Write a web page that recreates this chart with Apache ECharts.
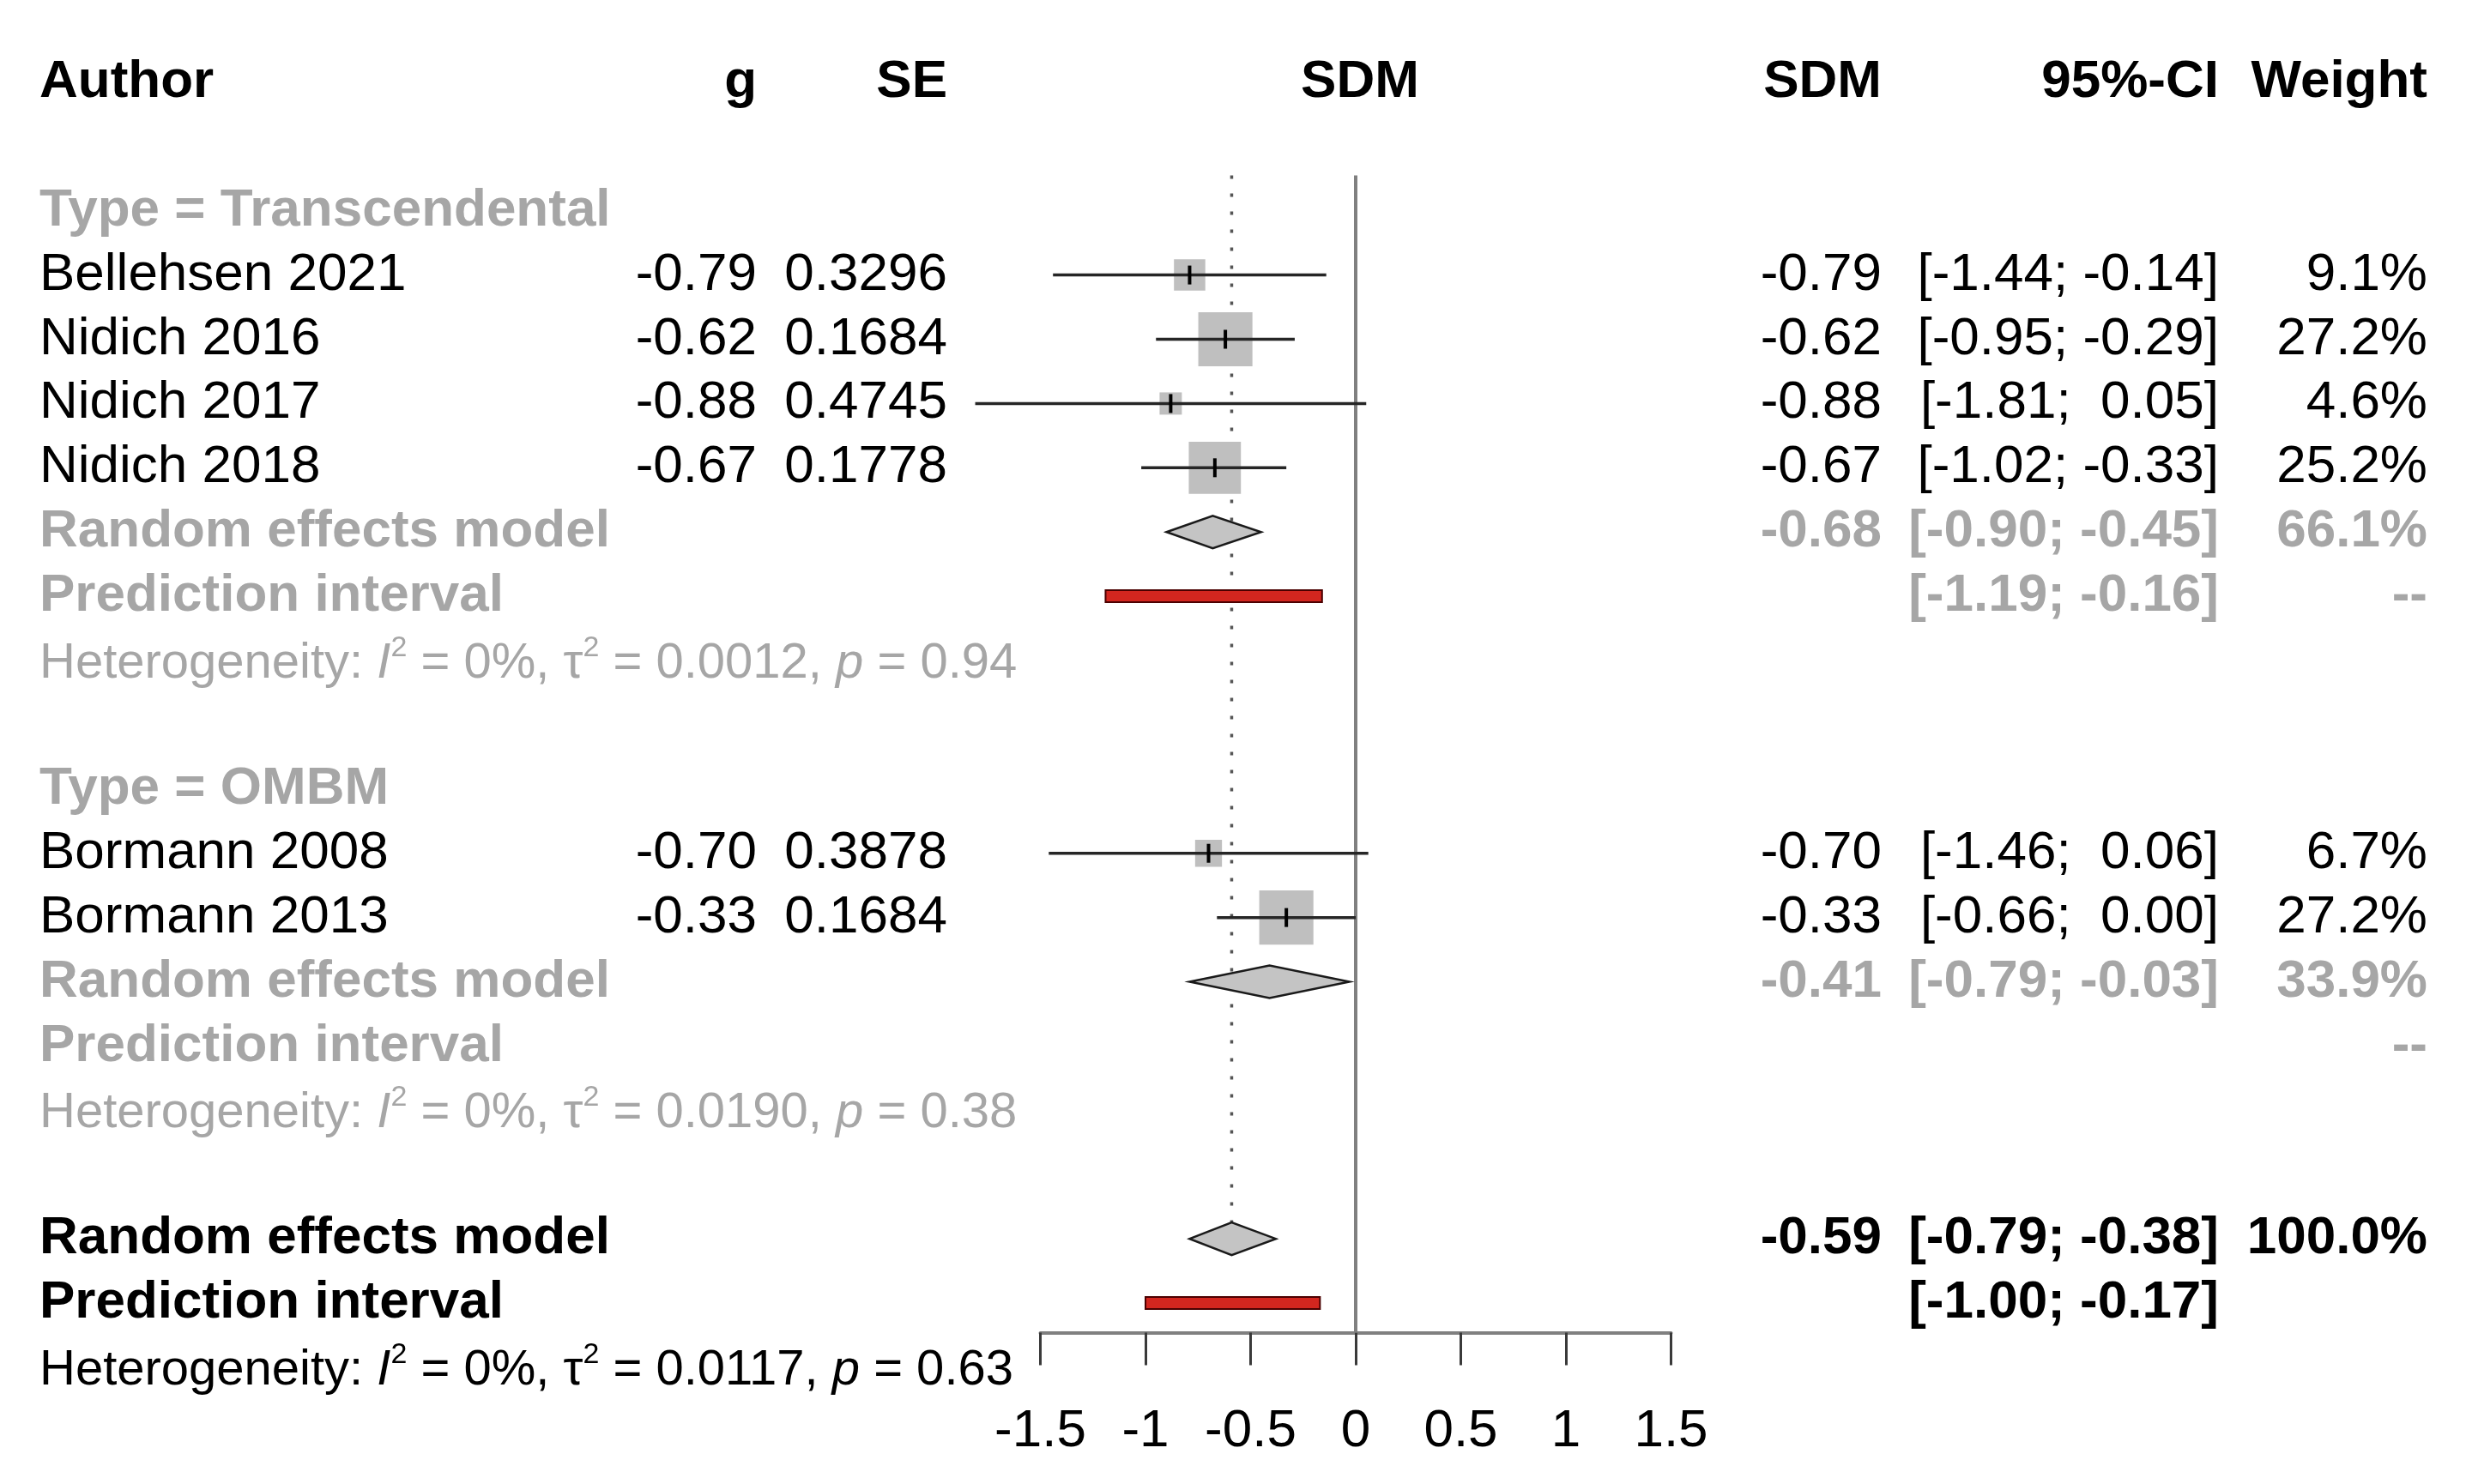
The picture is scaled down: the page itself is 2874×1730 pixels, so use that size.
<!DOCTYPE html>
<html>
<head>
<meta charset="utf-8">
<script src="https://cdn.jsdelivr.net/npm/echarts@6/dist/echarts.min.js"></script>
<style>
  html, body { margin: 0; padding: 0; background: #ffffff; }
  #chart { width: 2874px; height: 1730px; }
</style>
</head>
<body>
<div id="chart"></div>
<script>
// ---- studies ----
var authors = ['Bellehsen 2021', 'Nidich 2016', 'Nidich 2017', 'Nidich 2018', 'Bormann 2008', 'Bormann 2013'];
var studyType = ['Transcendental', 'Transcendental', 'Transcendental', 'Transcendental', 'OMBM', 'OMBM'];
var g = [-0.79, -0.62, -0.88, -0.67, -0.70, -0.33];
var se = [0.3296, 0.1684, 0.4745, 0.1778, 0.3878, 0.1684];
var ciLow = [-1.44, -0.95, -1.81, -1.02, -1.46, -0.66];
var ciHigh = [-0.14, -0.29, 0.05, -0.33, 0.06, 0.00];
var weight = [9.1, 27.2, 4.6, 25.2, 6.7, 27.2];

// ---- subgroups (random effects) ----
var groups = ['Transcendental', 'OMBM'];
var groupEst = [-0.68, -0.41];
var groupLow = [-0.90, -0.79];
var groupHigh = [-0.45, -0.03];
var groupWeight = [66.1, 33.9];
var groupPiLow = [-1.19, null];
var groupPiHigh = [-0.16, null];
var groupI2 = [0, 0];
var groupTau2 = ['0.0012', '0.0190'];
var groupP = ['0.94', '0.38'];

// ---- overall ----
var overallEst = -0.59;
var overallCi = [-0.79, -0.38];
var overallPi = [-1.00, -0.17];
var overallI2 = 0;
var overallTau2 = '0.0117';
var overallP = '0.63';

// ---- axis ----
var xTicks = [-1.5, -1, -0.5, 0, 0.5, 1, 1.5];

var FONT = '"Liberation Sans", Arial, Helvetica, sans-serif';
var GRAY = '#a6a6a6';
var FS = 62;
var HET_FS = 58;

// column anchors (pixels)
var colX = { author: 46, g: 882, se: 1104, plot: 1585, sdm: 2193, ci: 2586, weight: 2829 };

function f2(v) { return v.toFixed(2); }
function ciText(lo, hi) {
  function p(v) { return (v < 0 ? '' : ' ') + f2(v); }
  return '[' + p(lo) + '; ' + p(hi) + ']';
}
function hetRich(color) {
  return {
    it: { font: 'italic ' + HET_FS + 'px ' + FONT, fill: color },
    // bottom padding lifts the exponent above the line middle
    sup: { font: '34px ' + FONT, fill: color, padding: [0, 0, 36, 0] }
  };
}
function hetText(i2, tau2, p) {
  return 'Heterogeneity: {it|I}{sup|2} = ' + i2 + '%, \u03c4{sup|2} = ' + tau2 + ', {it|p} = ' + p;
}

// build rows
var textItems = [];
var studyMarks = [];
var diamondMarks = [];
var piMarks = [];
function txt(row, x, text, align, color, bold, size, rich) {
  textItems.push({ row: row, x: x, text: text, align: align, color: color, bold: bold, size: size || FS, rich: rich });
}

// header
txt(-2, colX.author, 'Author', 'left', '#000', true);
txt(-2, colX.g, 'g', 'right', '#000', true);
txt(-2, colX.se, 'SE', 'right', '#000', true);
txt(-2, colX.plot, 'SDM', 'center', '#000', true);
txt(-2, colX.sdm, 'SDM', 'right', '#000', true);
txt(-2, colX.ci, '95%-CI', 'right', '#000', true);
txt(-2, colX.weight, 'Weight', 'right', '#000', true);

var r = 0;
groups.forEach(function (grp, k) {
  txt(r, colX.author, 'Type = ' + grp, 'left', GRAY, true);
  r++;
  for (var i = 0; i < authors.length; i++) {
    if (studyType[i] !== grp) continue;
    txt(r, colX.author, authors[i], 'left', '#000', false);
    txt(r, colX.g, f2(g[i]), 'right', '#000', false);
    txt(r, colX.se, se[i].toFixed(4), 'right', '#000', false);
    txt(r, colX.sdm, f2(g[i]), 'right', '#000', false);
    txt(r, colX.ci, ciText(ciLow[i], ciHigh[i]), 'right', '#000', false);
    txt(r, colX.weight, weight[i].toFixed(1) + '%', 'right', '#000', false);
    studyMarks.push([g[i], r, ciLow[i], ciHigh[i], weight[i]]);
    r++;
  }
  txt(r, colX.author, 'Random effects model', 'left', GRAY, true);
  txt(r, colX.sdm, f2(groupEst[k]), 'right', GRAY, true);
  txt(r, colX.ci, ciText(groupLow[k], groupHigh[k]), 'right', GRAY, true);
  txt(r, colX.weight, groupWeight[k].toFixed(1) + '%', 'right', GRAY, true);
  diamondMarks.push([groupEst[k], r, groupLow[k], groupHigh[k]]);
  r++;
  txt(r, colX.author, 'Prediction interval', 'left', GRAY, true);
  if (groupPiLow[k] !== null) {
    txt(r, colX.ci, ciText(groupPiLow[k], groupPiHigh[k]), 'right', GRAY, true);
    piMarks.push([groupPiLow[k], r, groupPiHigh[k]]);
  }
  txt(r, colX.weight, '--', 'right', GRAY, true);
  r++;
  txt(r + 0.05, colX.author, hetText(groupI2[k], groupTau2[k], groupP[k]), 'left', GRAY, false, HET_FS, hetRich(GRAY));
  r += 2;
});
var overallRow = r;
txt(r, colX.author, 'Random effects model', 'left', '#000', true);
txt(r, colX.sdm, f2(overallEst), 'right', '#000', true);
txt(r, colX.ci, ciText(overallCi[0], overallCi[1]), 'right', '#000', true);
txt(r, colX.weight, '100.0%', 'right', '#000', true);
diamondMarks.push([overallEst, r, overallCi[0], overallCi[1]]);
r++;
txt(r, colX.author, 'Prediction interval', 'left', '#000', true);
txt(r, colX.ci, ciText(overallPi[0], overallPi[1]), 'right', '#000', true);
piMarks.push([overallPi[0], r, overallPi[1]]);
r++;
txt(r + 0.05, colX.author, hetText(overallI2, overallTau2, overallP), 'left', '#000', false, HET_FS, hetRich('#000'));

var refLines = [[0, -0.55, 17.46, 'solid'], [overallEst, -0.55, overallRow, 'dotted']];

var dom = document.getElementById('chart');
var myChart = echarts.init(dom, null, { renderer: 'canvas' });

var option = {
  backgroundColor: '#ffffff',
  animation: false,
  grid: { left: 1212.5, width: 735, top: 204.5, height: 1349 },
  xAxis: {
    type: 'value',
    min: xTicks[0],
    max: xTicks[xTicks.length - 1],
    interval: 0.5,
    splitLine: { show: false },
    axisLine: { show: true, onZero: false, lineStyle: { color: '#808080', width: 4 } },
    axisTick: { show: true, length: 38, lineStyle: { color: '#3a3a3a', width: 3 } },
    axisLabel: { fontSize: FS, fontFamily: FONT, color: '#000', margin: 84 }
  },
  yAxis: { type: 'value', min: -0.55, max: 17.46, inverse: true, show: false },
  series: [
    {
      // reference lines: no effect and overall effect
      type: 'custom', z: 1,
      data: refLines.map(function (d) { return [d[0], d[1], d[2]]; }),
      renderItem: function (params, api) {
        var d = refLines[params.dataIndex];
        var p1 = api.coord([d[0], d[1]]);
        var p2 = api.coord([d[0], d[2]]);
        var dotted = d[3] === 'dotted';
        return {
          type: 'line',
          shape: { x1: p1[0], y1: p1[1], x2: p2[0], y2: p2[1] },
          style: dotted ? { stroke: '#555', lineWidth: 3.5, lineDash: [4, 17] }
                        : { stroke: '#808080', lineWidth: 4 }
        };
      }
    },
    {
      // study squares + CIs
      type: 'custom', z: 3,
      data: studyMarks,
      renderItem: function (params, api) {
        var c = api.coord([api.value(0), api.value(1)]);
        var lo = api.coord([api.value(2), api.value(1)]);
        var hi = api.coord([api.value(3), api.value(1)]);
        var s = 12.1 * Math.sqrt(api.value(4));
        return {
          type: 'group',
          children: [
            { type: 'rect', shape: { x: c[0] - s / 2, y: c[1] - s / 2, width: s, height: s }, style: { fill: '#bfbfbf' } },
            { type: 'line', shape: { x1: lo[0], y1: c[1], x2: hi[0], y2: c[1] }, style: { stroke: '#262626', lineWidth: 3.5 } },
            { type: 'line', shape: { x1: c[0], y1: c[1] - 11, x2: c[0], y2: c[1] + 11 }, style: { stroke: '#000', lineWidth: 4 } }
          ]
        };
      }
    },
    {
      // random effects diamonds
      type: 'custom', z: 3,
      data: diamondMarks,
      renderItem: function (params, api) {
        var c = api.coord([api.value(0), api.value(1)]);
        var lo = api.coord([api.value(2), api.value(1)]);
        var hi = api.coord([api.value(3), api.value(1)]);
        var h = 19;
        return {
          type: 'polygon',
          shape: { points: [[lo[0], c[1]], [c[0], c[1] - h], [hi[0], c[1]], [c[0], c[1] + h]] },
          style: { fill: '#c4c4c4', stroke: '#1a1a1a', lineWidth: 2.5 }
        };
      }
    },
    {
      // prediction intervals
      type: 'custom', z: 3,
      data: piMarks,
      renderItem: function (params, api) {
        var lo = api.coord([api.value(0), api.value(1)]);
        var hi = api.coord([api.value(2), api.value(1)]);
        var h = 14;
        return {
          type: 'rect',
          shape: { x: lo[0], y: lo[1] - h / 2, width: hi[0] - lo[0], height: h },
          style: { fill: '#d3261f', stroke: '#4a0000', lineWidth: 2 }
        };
      }
    },
    {
      // table text
      type: 'custom', z: 4,
      data: textItems.map(function (t) { return [0, t.row]; }),
      renderItem: function (params, api) {
        var t = textItems[params.dataIndex];
        var y = api.coord([0, t.row])[1];
        var style = {
          text: t.text,
          fill: t.color,
          font: (t.bold ? 'bold ' : '') + t.size + 'px ' + FONT,
          textAlign: t.align, align: t.align,
          textVerticalAlign: 'middle', verticalAlign: 'middle'
        };
        if (t.rich) style.rich = t.rich;
        return { type: 'text', x: t.x, y: y, style: style };
      }
    }
  ]
};

myChart.setOption(option);
window.addEventListener('resize', myChart.resize);
</script>
</body>
</html>
